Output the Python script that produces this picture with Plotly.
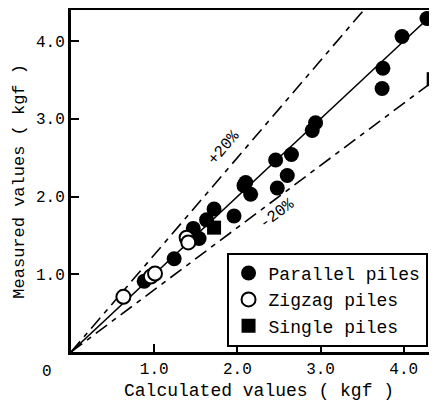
import plotly.graph_objects as go

# ---- data ----
parallel_x = [0.88, 1.24, 1.47, 1.54, 1.63, 1.72, 1.96, 2.08, 2.10, 2.16, 2.46, 2.48, 2.60, 2.65, 2.90, 2.94, 3.74, 3.75, 3.98, 4.28]
parallel_y = [0.91, 1.20, 1.59, 1.46, 1.70, 1.84, 1.75, 2.14, 2.18, 2.03, 2.47, 2.11, 2.27, 2.54, 2.85, 2.95, 3.39, 3.65, 4.06, 4.29]

zigzag_x = [0.63, 0.96, 1.01, 1.39, 1.41]
zigzag_y = [0.71, 0.97, 1.01, 1.47, 1.41]

single_x = [1.72, 4.36]
single_y = [1.60, 3.51]

tick_vals = [1, 2, 3, 4]
tick_text = ["1.0", "2.0", "3.0", "4.0"]

axis_max = 4.4
ref_x = [0, axis_max]
ratio_equal = 1.0
ratio_plus = 1.25   # +20% line
ratio_minus = 0.8   # -20% line

FONT = "Liberation Mono, Courier New, monospace"

fig = go.Figure()

# reference lines
fig.add_trace(go.Scatter(x=ref_x, y=[v * ratio_equal for v in ref_x], mode="lines",
                         line=dict(color="black", width=1.6), showlegend=False, hoverinfo="skip"))
fig.add_trace(go.Scatter(x=ref_x, y=[v * ratio_plus for v in ref_x], mode="lines",
                         line=dict(color="black", width=1.6, dash="14px,6px,5px,6px"),
                         showlegend=False, hoverinfo="skip"))
fig.add_trace(go.Scatter(x=ref_x, y=[v * ratio_minus for v in ref_x], mode="lines",
                         line=dict(color="black", width=1.6, dash="14px,6px,5px,6px"),
                         showlegend=False, hoverinfo="skip"))

# data
fig.add_trace(go.Scatter(x=parallel_x, y=parallel_y, mode="markers", name="Parallel piles",
                         marker=dict(symbol="circle", size=15, color="black")))
fig.add_trace(go.Scatter(x=zigzag_x, y=zigzag_y, mode="markers", name="Zigzag piles",
                         marker=dict(symbol="circle", size=14, color="white",
                                     line=dict(color="black", width=2))))
fig.add_trace(go.Scatter(x=single_x, y=single_y, mode="markers", name="Single piles",
                         marker=dict(symbol="square", size=14, color="black")))

fig.add_annotation(x=1.84, y=2.62, text="+20%", showarrow=False, textangle=-49.5,
                   xanchor="center", yanchor="middle",
                   font=dict(family=FONT, size=16, color="black"))
fig.add_annotation(x=2.48, y=1.77, text="-20%", showarrow=False, textangle=-37,
                   xanchor="center", yanchor="middle",
                   font=dict(family=FONT, size=16, color="black"))
fig.add_annotation(xref="paper", yref="paper", x=-0.066, y=-0.058, text="0", showarrow=False,
                   xanchor="center", yanchor="middle",
                   font=dict(family=FONT, size=16, color="black"))
fig.add_annotation(xref="paper", yref="paper", x=0.514, y=-0.114, text="Calculated values ( kgf )",
                   xanchor="center", yanchor="middle",
                   showarrow=False, font=dict(family=FONT, size=18, color="black"))
fig.add_annotation(xref="paper", yref="paper", x=-0.143, y=0.5, text="Measured values ( kgf )",
                   xanchor="center", yanchor="middle", borderpad=0,
                   showarrow=False, textangle=-90, font=dict(family=FONT, size=17, color="black"))

# page body has an 8px margin, so the figure is drawn 8px smaller and offset
fig.update_layout(
    width=429, height=394,
    margin=dict(l=63, r=0, t=2, b=50),
    paper_bgcolor="white", plot_bgcolor="white",
    font=dict(family=FONT, size=16, color="black"),
    showlegend=True,
    legend=dict(x=0.425, y=0.29, xanchor="left", yanchor="top",
                bgcolor="white", bordercolor="black", borderwidth=2,
                font=dict(family=FONT, size=18, color="black")),
)
fig.update_xaxes(range=[0, axis_max], tickvals=tick_vals, ticktext=tick_text,
                 ticks="inside", ticklen=8, tickwidth=2, tickcolor="black",
                 showline=True, linewidth=3, linecolor="black", mirror=True,
                 showgrid=False, zeroline=False, automargin=False)
fig.update_yaxes(range=[0, axis_max], tickvals=tick_vals, ticktext=tick_text,
                 ticks="inside", ticklen=8, tickwidth=2, tickcolor="black",
                 showline=True, linewidth=3, linecolor="black", mirror=True,
                 showgrid=False, zeroline=False, automargin=False)

fig.write_html("out.html")
